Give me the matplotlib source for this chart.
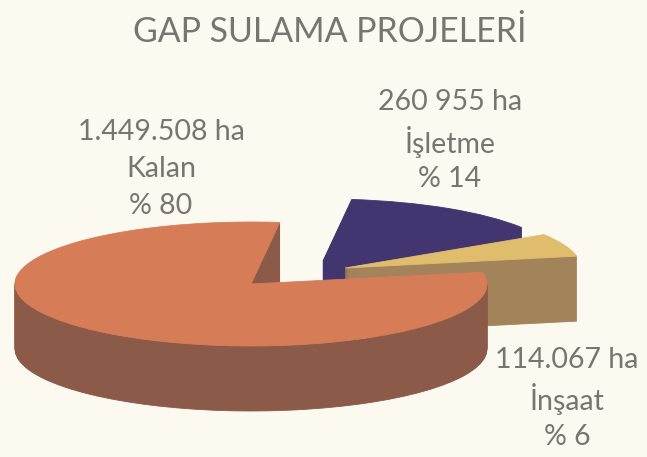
import numpy as np
import matplotlib
matplotlib.use("Agg")
import matplotlib.pyplot as plt
from matplotlib.patches import Wedge
from matplotlib.transforms import Affine2D

# ===================== DATA =====================
labels = ["Kalan", "İnşaat", "İşletme"]
areas = ["1.449.508 ha", "114.067 ha", "260 955 ha"]
percents = [80, 6, 14]
percent_labels = ["% 80", "% 6", "% 14"]

# ===================== STYLE =====================
W, H = 647, 457
BG = "#fcf9f0"
TEXT = "#7a7470"
top_colors = ["#d67d58", "#e0bd6c", "#43356f"]
side_colors = ["#8c5a48", "#a3835a", "#43356f"]
centers = [(251, 284), (345, 268), (323, 261)]  # apex of each slice in pixels
draw_order = [2, 1, 0]
text_pos = [(161, 132, 169, 206), (567, 360, 399, 437), (450, 102, 142, 179)]
RX, RY = 236, 62
DEPTH = 65
START = 83

plt.rcParams["font.family"] = ["Lato", "DejaVu Sans"]

fig = plt.figure(figsize=(W / 100, H / 100), dpi=100, facecolor=BG)
ax = fig.add_axes([0, 0, 1, 1])
ax.set_xlim(0, W)
ax.set_ylim(0, H)
ax.axis("off")

# slice angles come from the percentages, counter clockwise from START
spans = np.array(percents) / sum(percents) * 360
theta1 = START + np.concatenate([[0], np.cumsum(spans)[:-1]])
theta2 = theta1 + spans


def slice_at(i, drop, color, z):
    cx, cy = centers[i]
    squash = Affine2D().scale(1, RY / RX).translate(cx, H - cy - drop)
    ax.add_patch(Wedge((0, 0), RX, theta1[i], theta2[i], facecolor=color, edgecolor=color,
                       linewidth=0.6, transform=squash + ax.transData, zorder=z))


# side wall is a stack of slices, top face goes last
for n, i in enumerate(draw_order):
    for drop in range(DEPTH, 0, -1):
        slice_at(i, drop, side_colors[i], 10 * n + 1)
    slice_at(i, 0, top_colors[i], 10 * n + 2)

ax.text(330, H - 32, "GAP SULAMA PROJELERİ", ha="center", va="center", fontsize=24.4, color=TEXT)

for i in range(len(labels)):
    x, y1, y2, y3 = text_pos[i]
    for y, s in zip((y1, y2, y3), (areas[i], labels[i], percent_labels[i])):
        ax.text(x, H - y, s, ha="center", va="center", fontsize=20.5, color=TEXT, zorder=50)

fig.savefig("out.png", dpi=100, facecolor=BG)
